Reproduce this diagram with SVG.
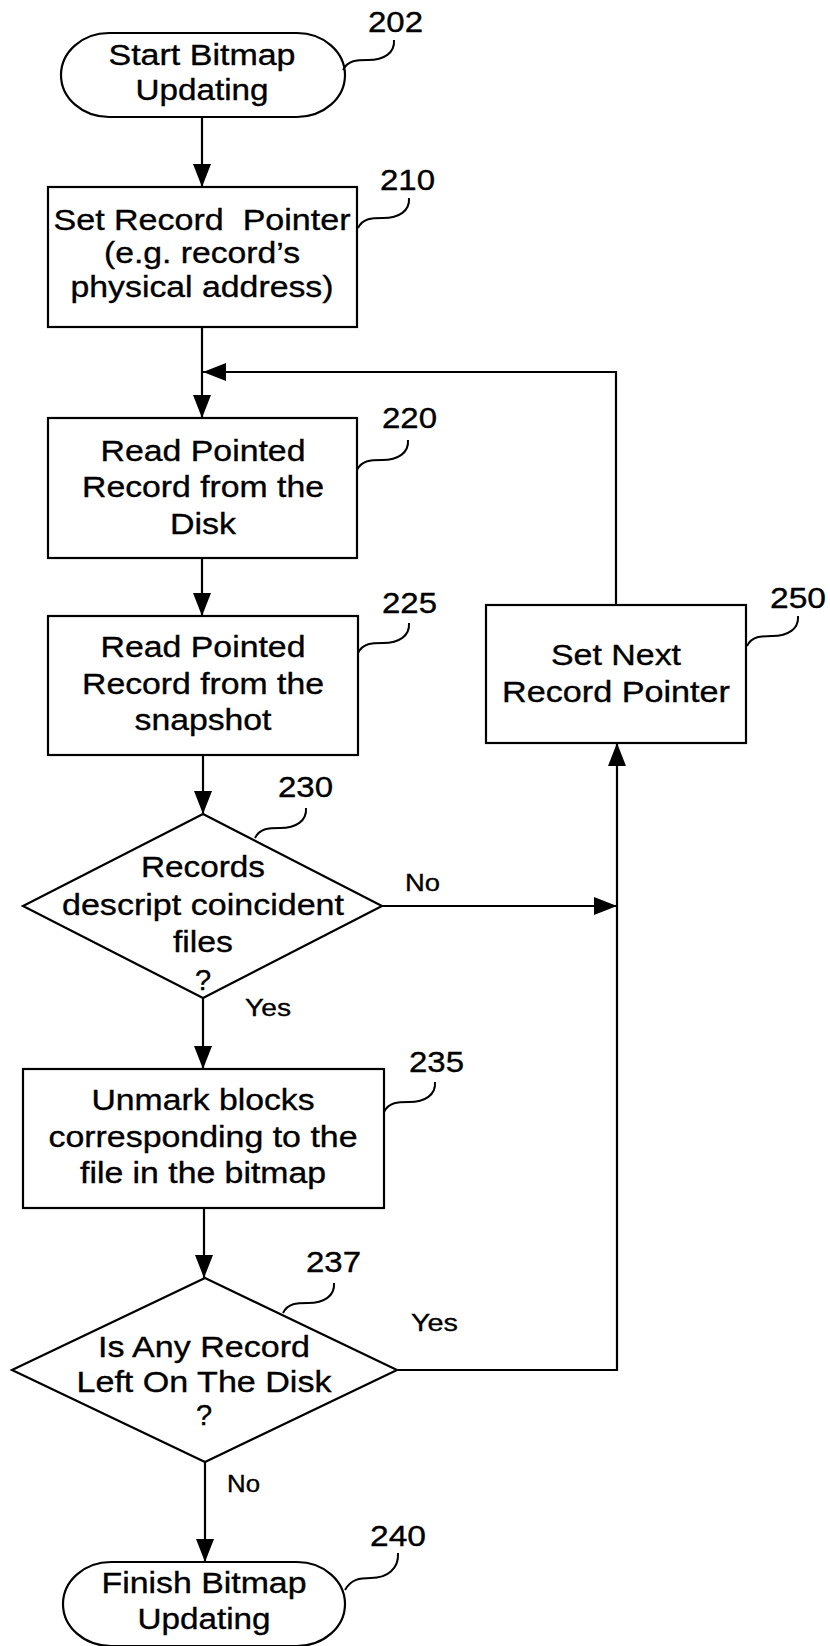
<svg xmlns="http://www.w3.org/2000/svg" xmlns:xlink="http://www.w3.org/1999/xlink" width="830" height="1646" viewBox="0 0 830 1646">
  <style>
    .shape { fill: #ffffff; stroke: #000000; stroke-width: 2.2; }
    .wire { fill: none; stroke: #000000; stroke-width: 2.2; }
    .lead { fill: none; stroke: #000000; stroke-width: 2; }
    .t, .num, .lab { font-family: "Liberation Sans", Arial, sans-serif; fill: #000000; stroke: #000000; stroke-width: 0.35; }
    .t { font-size: 29px; text-anchor: middle; }
    .num { font-size: 29px; }
    .lab { font-size: 24px; }
  </style>
  <defs>
    <marker id="arrow" markerUnits="userSpaceOnUse" markerWidth="24" markerHeight="18" refX="23" refY="9" orient="auto">
      <path d="M0,0 L23,9 L0,18 z" fill="#000000" stroke="none"/>
    </marker>
    <!-- squiggly leader from a shape edge up to its reference numeral -->
    <path id="leader" d="M0,0 c5,-10 14,-10 25,-10 c16,0 27,-7 26,-20"/>
  </defs>

  <!-- connectors -->
  <g id="connectors">
    <g class="wire">
      <line x1="202" y1="117" x2="202" y2="187" marker-end="url(#arrow)"/>
      <line x1="202" y1="327" x2="202" y2="418" marker-end="url(#arrow)"/>
      <line x1="202" y1="558" x2="202" y2="616" marker-end="url(#arrow)"/>
      <line x1="203" y1="755" x2="203" y2="814" marker-end="url(#arrow)"/>
      <line x1="203" y1="998" x2="203" y2="1069" marker-end="url(#arrow)"/>
      <line x1="204" y1="1208" x2="204" y2="1278" marker-end="url(#arrow)"/>
      <line x1="205" y1="1462" x2="205" y2="1562" marker-end="url(#arrow)"/>
      <!-- loop back from 250 to the top of 220 -->
      <polyline points="616,605 616,372 203,372" marker-end="url(#arrow)"/>
      <!-- No branch of 230 -->
      <line x1="382" y1="906" x2="617" y2="906" marker-end="url(#arrow)"/>
      <!-- Yes branch of 237 up into 250 -->
      <polyline points="397,1370 617,1370 617,743" marker-end="url(#arrow)"/>
    </g>
    <text class="lab" x="405" y="891" textLength="35" lengthAdjust="spacingAndGlyphs">No</text>
    <text class="lab" x="245" y="1016" textLength="46" lengthAdjust="spacingAndGlyphs">Yes</text>
    <text class="lab" x="411" y="1331" textLength="47" lengthAdjust="spacingAndGlyphs">Yes</text>
    <text class="lab" x="227" y="1492" textLength="33" lengthAdjust="spacingAndGlyphs">No</text>
  </g>

  <g id="n202">
    <rect class="shape" x="61" y="33" width="284" height="84" rx="48" ry="42"/>
    <text class="t" x="202" y="65" textLength="187" lengthAdjust="spacingAndGlyphs">Start Bitmap</text>
    <text class="t" x="202" y="100" textLength="133" lengthAdjust="spacingAndGlyphs">Updating</text>
    <use href="#leader" xlink:href="#leader" x="343" y="70" class="lead"/>
    <text class="num" x="368" y="32" textLength="55" lengthAdjust="spacingAndGlyphs">202</text>
  </g>

  <g id="n210">
    <rect class="shape" x="48" y="187" width="309" height="140"/>
    <text class="t" x="202" y="230" textLength="297" lengthAdjust="spacingAndGlyphs">Set Record&#160; Pointer</text>
    <text class="t" x="202" y="263" textLength="196" lengthAdjust="spacingAndGlyphs">(e.g. record’s</text>
    <text class="t" x="202" y="297" textLength="263" lengthAdjust="spacingAndGlyphs">physical address)</text>
    <use href="#leader" xlink:href="#leader" x="358" y="228" class="lead"/>
    <text class="num" x="380" y="190" textLength="55" lengthAdjust="spacingAndGlyphs">210</text>
  </g>

  <g id="n220">
    <rect class="shape" x="48" y="418" width="309" height="140"/>
    <text class="t" x="203" y="461" textLength="205" lengthAdjust="spacingAndGlyphs">Read Pointed</text>
    <text class="t" x="203" y="497" textLength="242" lengthAdjust="spacingAndGlyphs">Record from the</text>
    <text class="t" x="203" y="534" textLength="66" lengthAdjust="spacingAndGlyphs">Disk</text>
    <use href="#leader" xlink:href="#leader" x="357" y="470" class="lead"/>
    <text class="num" x="382" y="428" textLength="55" lengthAdjust="spacingAndGlyphs">220</text>
  </g>

  <g id="n225">
    <rect class="shape" x="48" y="616" width="310" height="139"/>
    <text class="t" x="203" y="657" textLength="205" lengthAdjust="spacingAndGlyphs">Read Pointed</text>
    <text class="t" x="203" y="694" textLength="242" lengthAdjust="spacingAndGlyphs">Record from the</text>
    <text class="t" x="203" y="730" textLength="137" lengthAdjust="spacingAndGlyphs">snapshot</text>
    <use href="#leader" xlink:href="#leader" x="358" y="653" class="lead"/>
    <text class="num" x="382" y="613" textLength="55" lengthAdjust="spacingAndGlyphs">225</text>
  </g>

  <g id="n230">
    <polygon class="shape" points="203,814 382,906 203,998 23,906"/>
    <text class="t" x="203" y="877" textLength="124" lengthAdjust="spacingAndGlyphs">Records</text>
    <text class="t" x="203" y="915" textLength="282" lengthAdjust="spacingAndGlyphs">descript coincident</text>
    <text class="t" x="203" y="952" textLength="60" lengthAdjust="spacingAndGlyphs">files</text>
    <text class="t" x="203" y="990">?</text>
    <use href="#leader" xlink:href="#leader" x="255" y="838" class="lead"/>
    <text class="num" x="278" y="797" textLength="55" lengthAdjust="spacingAndGlyphs">230</text>
  </g>

  <g id="n235">
    <rect class="shape" x="23" y="1069" width="361" height="139"/>
    <text class="t" x="203" y="1110" textLength="223" lengthAdjust="spacingAndGlyphs">Unmark blocks</text>
    <text class="t" x="203" y="1147" textLength="309" lengthAdjust="spacingAndGlyphs">corresponding to the</text>
    <text class="t" x="203" y="1183" textLength="246" lengthAdjust="spacingAndGlyphs">file in the bitmap</text>
    <use href="#leader" xlink:href="#leader" x="384" y="1112" class="lead"/>
    <text class="num" x="409" y="1072" textLength="55" lengthAdjust="spacingAndGlyphs">235</text>
  </g>

  <g id="n237">
    <polygon class="shape" points="205,1278 397,1370 205,1462 12,1370"/>
    <text class="t" x="204" y="1357" textLength="212" lengthAdjust="spacingAndGlyphs">Is Any Record</text>
    <text class="t" x="204" y="1392" textLength="255" lengthAdjust="spacingAndGlyphs">Left On The Disk</text>
    <text class="t" x="204" y="1425">?</text>
    <use href="#leader" xlink:href="#leader" x="283" y="1313" class="lead"/>
    <text class="num" x="306" y="1272" textLength="55" lengthAdjust="spacingAndGlyphs">237</text>
  </g>

  <g id="n240">
    <rect class="shape" x="63" y="1562" width="282" height="84" rx="48" ry="42"/>
    <text class="t" x="204" y="1593" textLength="205" lengthAdjust="spacingAndGlyphs">Finish Bitmap</text>
    <text class="t" x="204" y="1629" textLength="133" lengthAdjust="spacingAndGlyphs">Updating</text>
    <path class="lead" d="M345,1590 c6,-11 15,-12 26,-12 c16,0 28,-9 27,-25"/>
    <text class="num" x="370" y="1546" textLength="56" lengthAdjust="spacingAndGlyphs">240</text>
  </g>

  <g id="n250">
    <rect class="shape" x="486" y="605" width="260" height="138"/>
    <text class="t" x="616" y="665" textLength="130" lengthAdjust="spacingAndGlyphs">Set Next</text>
    <text class="t" x="616" y="702" textLength="228" lengthAdjust="spacingAndGlyphs">Record Pointer</text>
    <use href="#leader" xlink:href="#leader" x="747" y="646" class="lead"/>
    <text class="num" x="770" y="608" textLength="56" lengthAdjust="spacingAndGlyphs">250</text>
  </g>
</svg>
